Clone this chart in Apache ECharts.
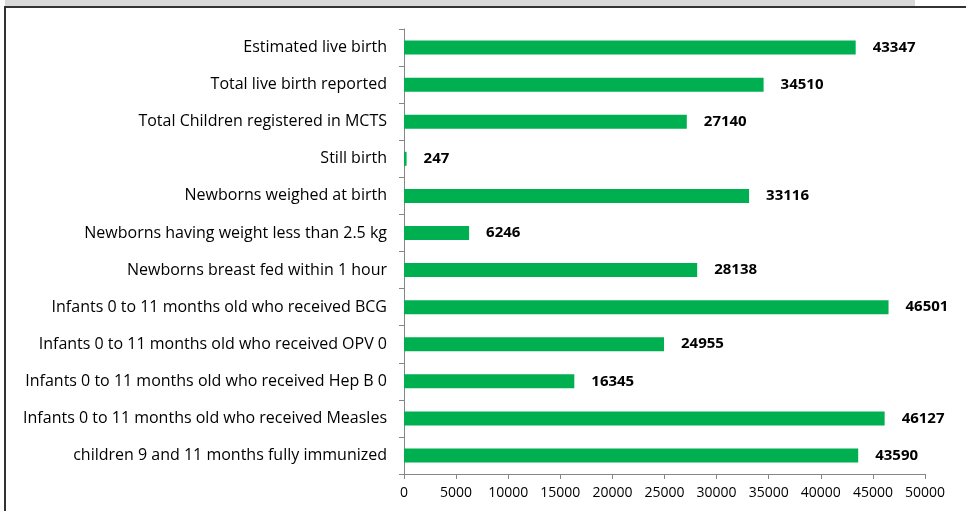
<!DOCTYPE html>
<html>
<head>
<meta charset="utf-8">
<script src="https://cdn.jsdelivr.net/npm/echarts@6/dist/echarts.min.js"></script>
<style>
  html, body { margin: 0; padding: 0; background: #fff; }
  #wrap { position: relative; width: 966px; height: 511px; overflow: hidden; }
  #band { position: absolute; left: 5px; top: 0; width: 910px; height: 6px; background: #d9d9d9; }
  #frame { position: absolute; left: 4px; top: 6px; width: 970px; height: 520px;
           border-top: 2px solid #333; border-left: 2px solid #333; }
  #mychart { position: absolute; left: 0; top: 0; width: 966px; height: 511px; }
</style>
</head>
<body>
<div id="wrap">
  <div id="band"></div>
  <div id="frame"></div>
  <div id="mychart"></div>
</div>
<script>
// categories (top to bottom)
var categories = [
  "Estimated live birth",
  "Total live birth reported",
  "Total Children registered in MCTS",
  "Still birth",
  "Newborns weighed at birth",
  "Newborns having weight less than 2.5 kg",
  "Newborns breast fed within 1 hour",
  "Infants 0 to 11 months old who received BCG",
  "Infants 0 to 11 months old who received OPV 0",
  "Infants 0 to 11 months old who received Hep B 0",
  "Infants 0 to 11 months old who received Measles",
  "children 9 and 11 months fully immunized"
];
var values = [43347, 34510, 27140, 247, 33116, 6246, 28138, 46501, 24955, 16345, 46127, 43590];

var fontName = "'Open Sans', 'Liberation Sans', sans-serif";

var myChart = echarts.init(document.getElementById("mychart"));
var option = {
  animation: false,
  grid: { left: 404, right: 41, top: 29, bottom: 37, containLabel: false },
  xAxis: {
    type: "value",
    min: 0,
    max: 50000,
    interval: 5000,
    splitLine: { show: false },
    axisLine: { show: true, lineStyle: { color: "#868686", width: 1 } },
    axisTick: { show: true, length: 5, lineStyle: { color: "#868686" } },
    axisLabel: {
      color: "#000", fontSize: 14, margin: 12, fontFamily: fontName,
      formatter: function (v) { return String(v); }
    }
  },
  yAxis: {
    type: "category",
    inverse: true,
    data: categories,
    axisLine: { show: true, lineStyle: { color: "#868686", width: 1 } },
    axisTick: { show: true, length: 5, alignWithLabel: false, lineStyle: { color: "#868686" } },
    axisLabel: { color: "#000", fontSize: 16, margin: 17, fontFamily: fontName }
  },
  series: [
    {
      type: "bar",
      data: values,
      barWidth: 14,
      itemStyle: { color: "#00b050" },
      label: {
        show: true,
        position: "right",
        distance: 17,
        color: "#000",
        fontWeight: "bold",
        fontSize: 15,
        fontFamily: fontName
      }
    }
  ]
};
myChart.setOption(option);
</script>
</body>
</html>
